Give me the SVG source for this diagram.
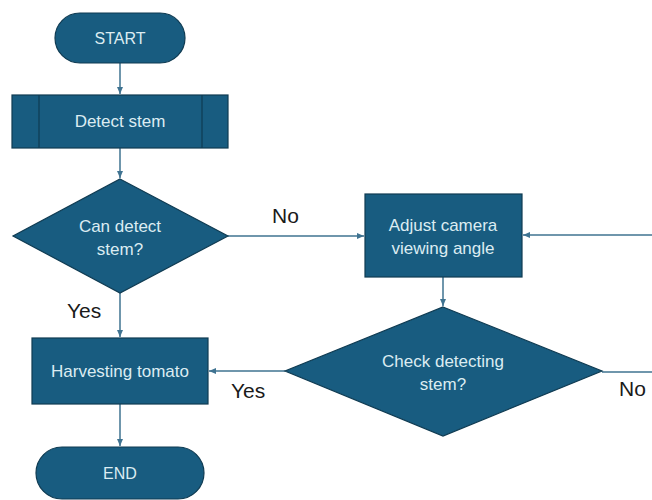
<svg xmlns="http://www.w3.org/2000/svg" width="652" height="500" viewBox="0 0 652 500">
<defs>
<style>
.shape{fill:#185c80;stroke:#0f3b52;stroke-width:1.2}
.in{fill:none;stroke:#0f3b52;stroke-width:1.2}
.t{font-family:"Liberation Sans",Arial,sans-serif;font-size:17px;fill:#dcecf2;text-anchor:middle;dominant-baseline:central}
.cap{font-size:16px}
.lbl{font-family:"Liberation Sans",Arial,sans-serif;font-size:21px;fill:#1a1a1a}
.c{fill:none;stroke:#3f7391;stroke-width:1.5}
</style>
<marker id="ah" markerWidth="8" markerHeight="8" refX="7" refY="4" orient="auto" markerUnits="userSpaceOnUse">
<path d="M0,1 L7,4 L0,7 z" fill="#3f7391"/>
</marker>
</defs>
<rect width="652" height="500" fill="#ffffff"/>
<g id="connectors">
<line class="c" x1="120" y1="63" x2="120" y2="94" marker-end="url(#ah)"/>
<line class="c" x1="120" y1="148" x2="120" y2="178" marker-end="url(#ah)"/>
<line class="c" x1="228" y1="236" x2="364" y2="236" marker-end="url(#ah)"/>
<polyline class="c" points="602,372 652,372"/>
<line class="c" x1="652" y1="235" x2="523" y2="235" marker-end="url(#ah)"/>
<line class="c" x1="443" y1="277" x2="443" y2="306" marker-end="url(#ah)"/>
<line class="c" x1="285" y1="371" x2="209" y2="371" marker-end="url(#ah)"/>
<line class="c" x1="120" y1="293" x2="120" y2="337" marker-end="url(#ah)"/>
<line class="c" x1="120" y1="404" x2="120" y2="446" marker-end="url(#ah)"/>
<text class="lbl" x="272" y="223">No</text>
<text class="lbl" x="67" y="318">Yes</text>
<text class="lbl" x="231" y="398">Yes</text>
<text class="lbl" x="619" y="396">No</text>
</g>
<g id="start">
<rect class="shape" x="55" y="13" width="130" height="50" rx="25" ry="25"/>
<text class="t cap" x="120" y="38">START</text>
</g>
<g id="detect">
<rect class="shape" x="12" y="95" width="216" height="53"/>
<line class="in" x1="39" y1="95" x2="39" y2="148"/>
<line class="in" x1="202" y1="95" x2="202" y2="148"/>
<text class="t" x="120" y="121">Detect stem</text>
</g>
<g id="can-detect">
<polygon class="shape" points="120,179 228,236 120,293 13,236"/>
<text class="t" x="120" y="226">Can detect</text>
<text class="t" x="120" y="249">stem?</text>
</g>
<g id="adjust">
<rect class="shape" x="365" y="194" width="157" height="83"/>
<text class="t" x="443" y="225">Adjust camera</text>
<text class="t" x="443" y="248">viewing angle</text>
</g>
<g id="check">
<polygon class="shape" points="443,307 602,371 443,436 285,371"/>
<text class="t" x="443" y="361">Check detecting</text>
<text class="t" x="443" y="384">stem?</text>
</g>
<g id="harvest">
<rect class="shape" x="32" y="338" width="176" height="66"/>
<text class="t" x="120" y="371">Harvesting tomato</text>
</g>
<g id="end">
<rect class="shape" x="36" y="447" width="168" height="52" rx="26" ry="26"/>
<text class="t cap" x="120" y="473">END</text>
</g>
</svg>
